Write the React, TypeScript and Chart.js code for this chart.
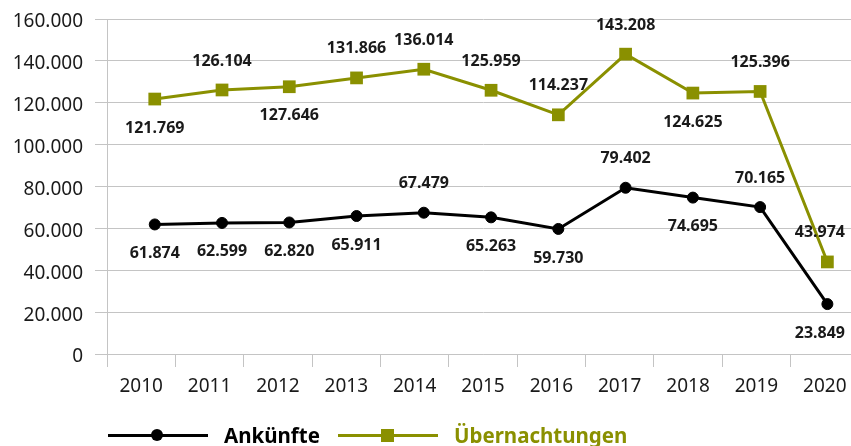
import React, { useEffect, useRef } from 'react';
import { Chart, registerables } from 'chart.js';

Chart.register(...registerables);

const years = [2010, 2011, 2012, 2013, 2014, 2015, 2016, 2017, 2018, 2019, 2020];
const yearLabels = years.map(String);
const ankuenfte = [61874, 62599, 62820, 65911, 67479, 65263, 59730, 79402, 74695, 70165, 23849];
const uebernachtungen = [121769, 126104, 127646, 131866, 136014, 125959, 114237, 143208, 124625, 125396, 43974];
const ankuenftePlacement = ['below', 'below', 'below', 'below', 'above', 'below', 'below', 'above', 'below', 'above', 'below'];
const uebernachtungenPlacement = ['below', 'above', 'below', 'above', 'above', 'above', 'above', 'above', 'below', 'above', 'above'];
const yMin = 0;
const yMax = 160000;
const yStep = 20000;

const GREEN = '#8a9000';
const BLACK = '#000000';
const GRID = '#c4c4c4';
const TEXT = '#1a1a1a';
const FONT = '"Noto Sans", "Open Sans", sans-serif';
const VISIBLE_WIDTH = 851;

const fmt = (v: number) => String(Math.round(v)).replace(/\B(?=(\d{3})+(?!\d))/g, '.');

const seriesValues = [ankuenfte, uebernachtungen];
const seriesPlacement = [ankuenftePlacement, uebernachtungenPlacement];

const valueLabelPlugin = {
  id: 'valueLabels',
  afterDatasetsDraw(chart: any) {
    const ctx = chart.ctx;
    ctx.save();
    ctx.font = `bold 16px ${FONT}`;
    ctx.fillStyle = TEXT;
    ctx.textAlign = 'center';
    ctx.textBaseline = 'middle';
    chart.data.datasets.forEach((_ds: any, di: number) => {
      const meta = chart.getDatasetMeta(di);
      meta.data.forEach((pt: any, i: number) => {
        const text = fmt(seriesValues[di][i]);
        const half = ctx.measureText(text).width / 2;
        const x = Math.min(pt.x, VISIBLE_WIDTH - 6 - half);
        const dy = seriesPlacement[di][i] === 'above' ? -29 : 29;
        ctx.fillText(text, x, pt.y + dy);
      });
    });
    ctx.restore();
  },
};

export default function App() {
  const canvasRef = useRef<HTMLCanvasElement | null>(null);

  useEffect(() => {
    if (!canvasRef.current) return;
    const chart = new Chart(canvasRef.current, {
      type: 'line',
      data: {
        datasets: [
          {
            label: 'Ankünfte',
            data: years.map((y, i) => ({ x: y, y: ankuenfte[i] })),
            borderColor: BLACK,
            backgroundColor: BLACK,
            borderWidth: 3,
            pointStyle: 'circle',
            pointRadius: 5.5,
            pointBorderWidth: 1,
            tension: 0,
            xAxisID: 'x',
          },
          {
            label: 'Übernachtungen',
            data: years.map((y, i) => ({ x: y, y: uebernachtungen[i] })),
            borderColor: GREEN,
            backgroundColor: GREEN,
            borderWidth: 3,
            pointStyle: 'rect',
            pointRadius: 9,
            pointBorderWidth: 0,
            tension: 0,
            xAxisID: 'x',
          },
        ],
      },
      options: {
        responsive: false,
        animation: false,
        layout: { padding: { top: 19, right: 9, bottom: 40.2, left: 0 } },
        plugins: {
          legend: { display: false },
          tooltip: { enabled: false },
        },
        scales: {
          x: {
            type: 'linear',
            min: 2009.29,
            max: 2020.47,
            display: false,
          },
          x2: {
            type: 'category',
            labels: yearLabels,
            position: 'bottom',
            offset: true,
            grid: { offset: true, drawOnChartArea: false, tickLength: 13, color: GRID },
            border: { color: GRID },
            ticks: { font: { family: FONT, size: 19 }, color: TEXT, padding: 8, maxRotation: 0, autoSkip: false },
            afterFit: (scale: any) => {
              scale.paddingLeft = 0;
              scale.paddingRight = 0;
            },
          },
          y: {
            type: 'linear',
            min: yMin,
            max: yMax,
            grid: { color: GRID, tickLength: 12 },
            border: { color: GRID },
            ticks: {
              stepSize: yStep,
              font: { family: FONT, size: 19 },
              color: TEXT,
              padding: 12,
              labelOffset: 3,
              callback: (v: any) => fmt(Number(v)),
            },
            afterFit: (scale: any) => {
              scale.width = 107;
              scale.paddingTop = 0;
              scale.paddingBottom = 0;
            },
          },
        },
      },
      plugins: [valueLabelPlugin],
    } as any);
    return () => chart.destroy();
  }, []);

  const legendText: React.CSSProperties = {
    fontFamily: FONT,
    fontWeight: 700,
    fontSize: 20.5,
    lineHeight: '28px',
  };

  return (
    <div style={{ position: 'fixed', left: 0, top: 0, width: VISIBLE_WIDTH, height: 446, overflow: 'hidden', background: '#fff' }}>
      <div style={{ position: 'relative', width: 868, height: 446 }}>
        <canvas ref={canvasRef} width={868} height={446} style={{ display: 'block' }} />
        <div style={{ position: 'absolute', left: 108, top: 421, height: 28, display: 'flex', alignItems: 'center' }}>
          <div style={{ position: 'relative', width: 100, height: 28 }}>
            <div style={{ position: 'absolute', left: 0, right: 0, top: 12.5, height: 3, background: BLACK }} />
            <div style={{ position: 'absolute', left: 43, top: 8, width: 12, height: 12, borderRadius: '50%', background: BLACK }} />
          </div>
          <span style={{ ...legendText, color: BLACK, marginLeft: 16 }}>Ankünfte</span>
          <div style={{ position: 'relative', width: 100, height: 28, marginLeft: 18 }}>
            <div style={{ position: 'absolute', left: 0, right: 0, top: 12.5, height: 3, background: GREEN }} />
            <div style={{ position: 'absolute', left: 43.5, top: 7.5, width: 13, height: 13, background: GREEN }} />
          </div>
          <span style={{ ...legendText, color: GREEN, marginLeft: 16 }}>Übernachtungen</span>
        </div>
      </div>
    </div>
  );
}
